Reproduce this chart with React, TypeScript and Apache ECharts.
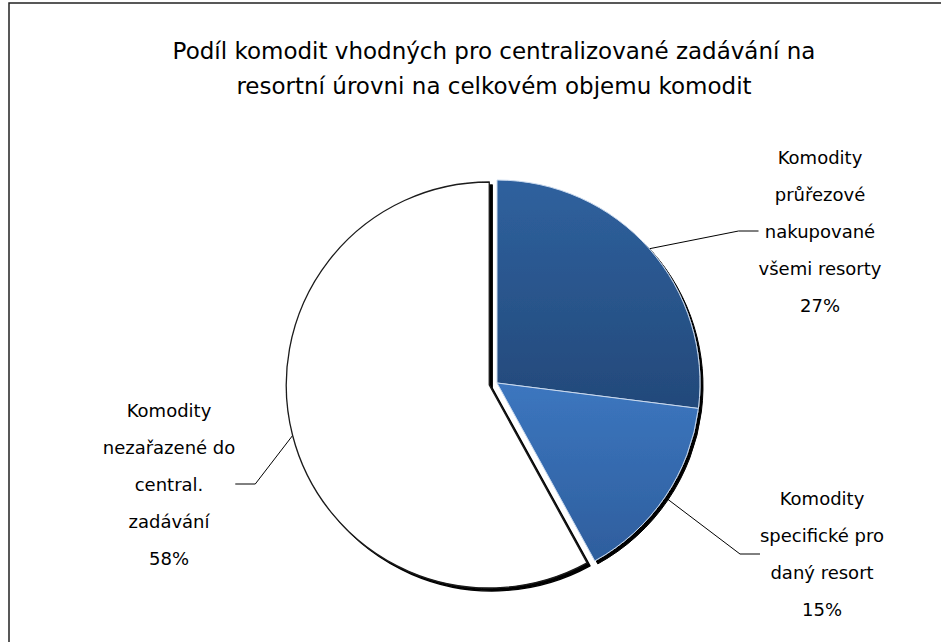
import React, { useEffect, useRef } from "react";
import * as echarts from "echarts";

const titleLines = [
  "Podíl komodit vhodných pro centralizované zadávání na",
  "resortní úrovni na celkovém objemu komodit",
];
const categories = [
  "Komodity\nprůřezové\nnakupované\nvšemi resorty",
  "Komodity\nspecifické pro\ndaný resort",
  "Komodity\nnezařazené do\ncentral.\nzadávání",
];
const values = [27, 15, 58];
const explodedIndex = 2;

const labelPos: [number, number][] = [
  [820, 231],
  [822, 554],
  [169, 484],
];

export default function App() {
  const ref = useRef<HTMLDivElement>(null);
  useEffect(() => {
    if (!ref.current) return;
    const chart = echarts.init(ref.current, null, { renderer: "svg" });
    const font = "'DejaVu Sans', sans-serif";
    const grad = (a: string, b: string) =>
      new echarts.graphic.LinearGradient(0, 0, 0, 1, [
        { offset: 0, color: a },
        { offset: 1, color: b },
      ]);
    const styles = [
      { color: grad("#2F619E", "#23497A"), borderColor: "#C9D9EE", borderWidth: 1 },
      { color: grad("#3C76BF", "#2E5E9D"), borderColor: "#C9D9EE", borderWidth: 1 },
      { color: "#FFFFFF", borderColor: "#1A1A1A", borderWidth: 1.3 },
    ];
    const hidden = {
      color: "rgba(0,0,0,0)",
      borderWidth: 0,
      shadowColor: "rgba(0,0,0,0)",
    };

    const cx = 497;
    const cy = 383;
    const explode = 8;
    const total = values.reduce((a, b) => a + b, 0);
    const before = values.slice(0, explodedIndex).reduce((a, b) => a + b, 0);
    const mid = ((before + values[explodedIndex] / 2) / total) * Math.PI * 2;
    const ex = cx + explode * Math.sin(mid);
    const ey = cy - explode * Math.cos(mid);

    const labelCfg = {
      show: true,
      position: "outside",
      fontFamily: font,
      fontSize: 18,
      color: "#000",
      lineHeight: 37,
      align: "center",
      formatter: (p: any) => `${p.name}\n${p.value}%`,
    };
    const base = {
      type: "pie",
      radius: 203,
      startAngle: 90,
      clockwise: true,
      avoidLabelOverlap: false,
      emphasis: { disabled: true },
      silent: true,
      itemStyle: {
        shadowColor: "#000",
        shadowBlur: 0,
        shadowOffsetX: 3,
        shadowOffsetY: 3,
      },
      label: labelCfg,
      labelLine: {
        show: true,
        length: 30,
        length2: 20,
        lineStyle: { color: "#000", width: 1 },
      },
      labelLayout: (params: any) => {
        const p = labelPos[params.dataIndex];
        return { x: p[0], y: p[1], align: "center", verticalAlign: "middle" };
      },
    };

    chart.setOption({
      animation: false,
      backgroundColor: "#FFFFFF",
      title: {
        text: titleLines.join("\n"),
        left: 489,
        top: 28,
        textAlign: "center",
        textStyle: {
          fontFamily: font,
          fontSize: 23,
          fontWeight: "normal",
          color: "#000",
          lineHeight: 35,
        },
      },
      graphic: [
        {
          type: "rect",
          shape: { x: 9, y: 3, width: 960, height: 680 },
          style: { fill: "none", stroke: "#222", lineWidth: 1.5 },
          silent: true,
          z: 100,
        },
      ],
      series: [
        {
          ...base,
          center: [cx, cy],
          data: categories.map((name, i) => ({
            name,
            value: values[i],
            itemStyle: i === explodedIndex ? hidden : styles[i],
            label: { show: i !== explodedIndex },
            labelLine: { show: i !== explodedIndex },
          })),
        },
        {
          ...base,
          center: [ex, ey],
          data: categories.map((name, i) => ({
            name,
            value: values[i],
            itemStyle: i === explodedIndex ? styles[i] : hidden,
            label: { show: i === explodedIndex },
            labelLine: { show: i === explodedIndex },
          })),
        },
      ],
    });
    return () => chart.dispose();
  }, []);
  return (
    <div
      ref={ref}
      style={{ position: "fixed", left: 0, top: 0, width: 941, height: 642 }}
    />
  );
}
